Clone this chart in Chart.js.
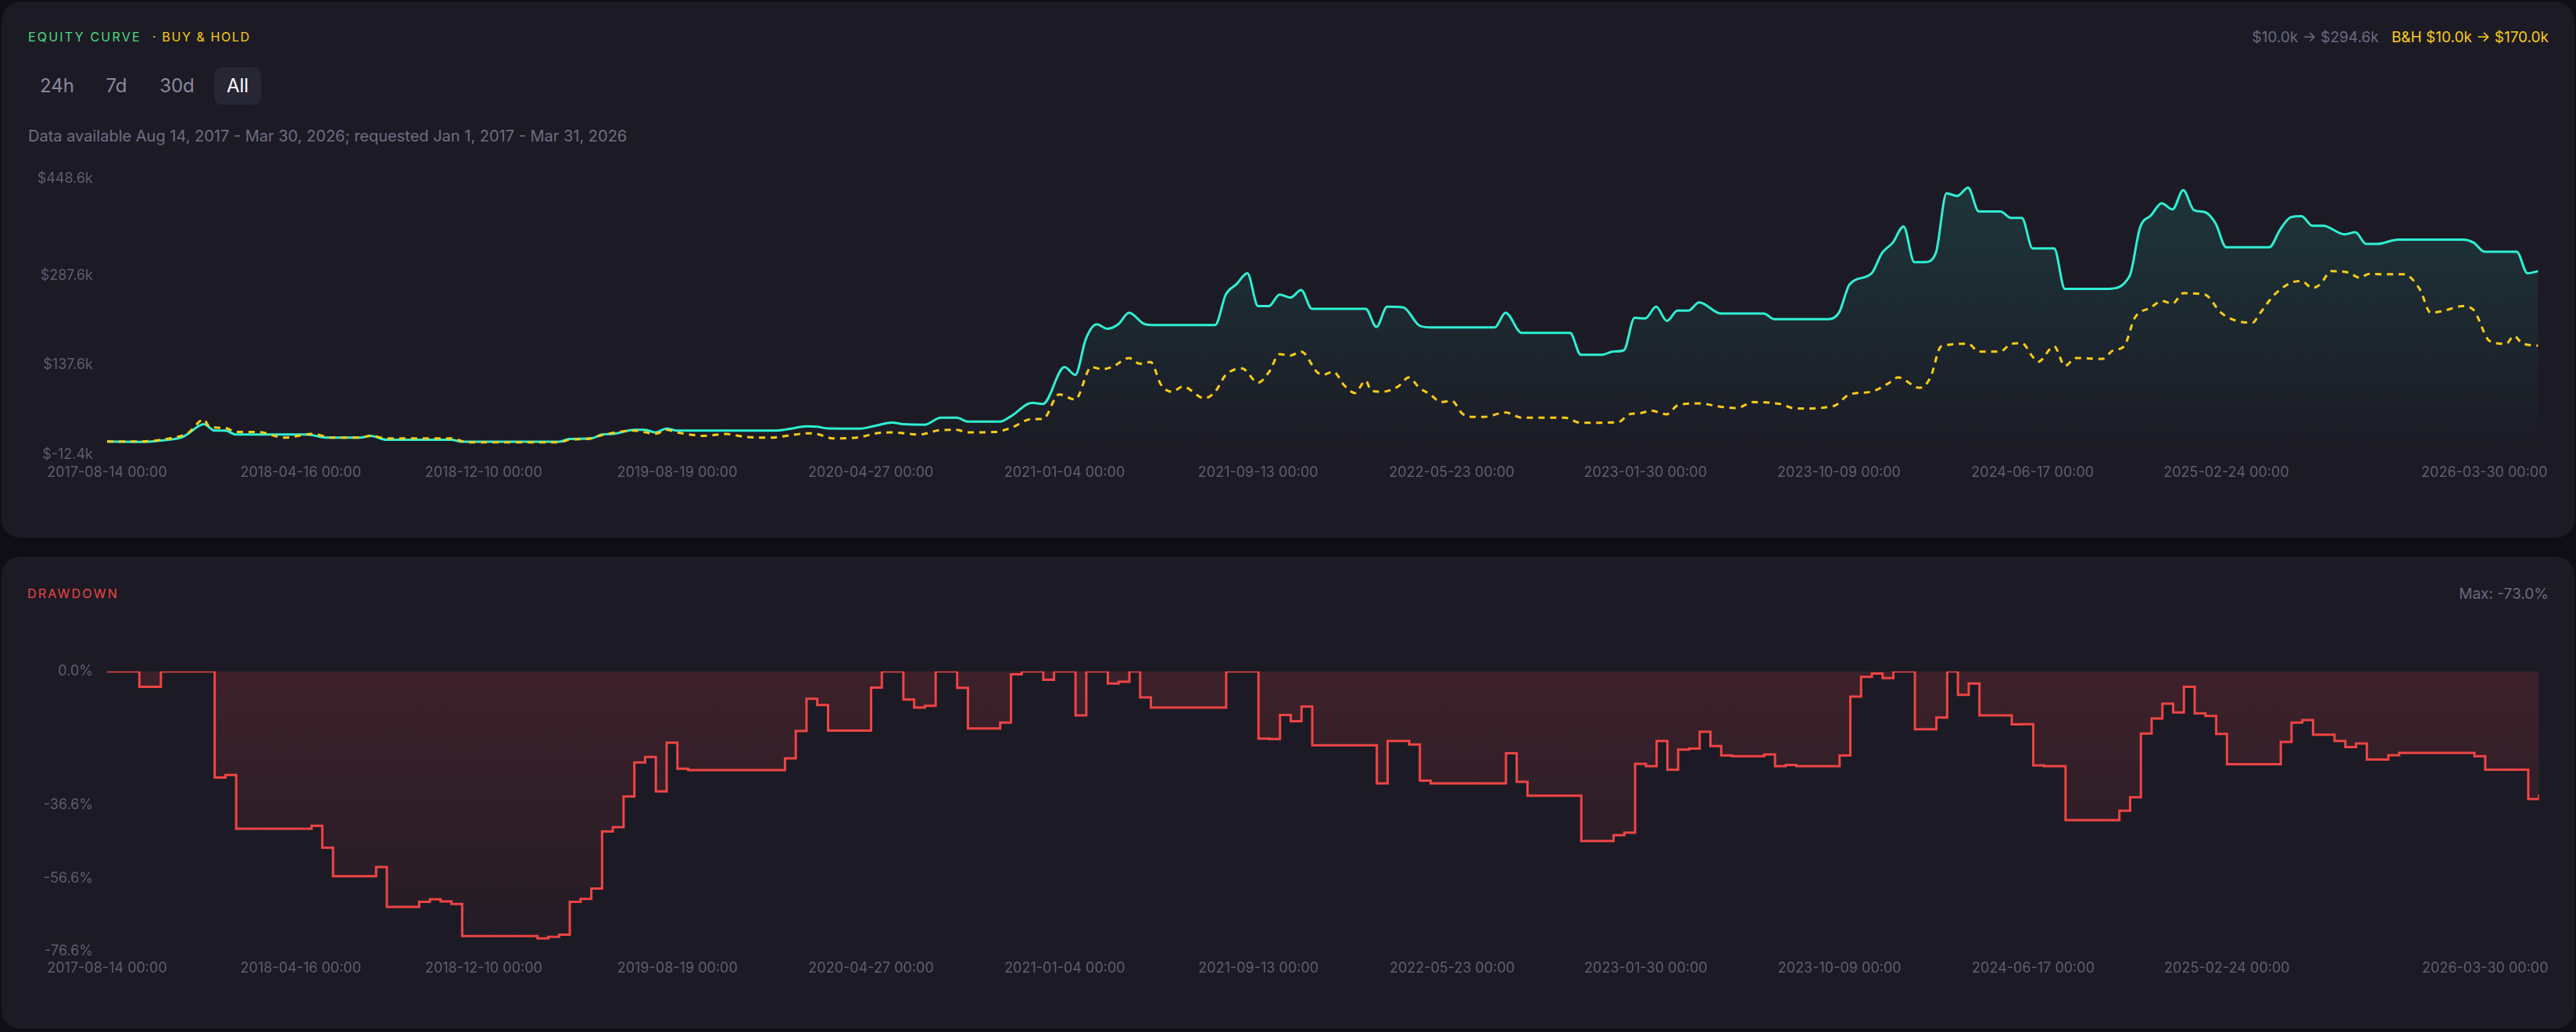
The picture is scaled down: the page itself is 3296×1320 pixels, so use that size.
<!DOCTYPE html>
<html>
<head>
<meta charset="utf-8">
<script src="https://cdn.jsdelivr.net/npm/chart.js@4.4.1/dist/chart.umd.min.js"></script>
<style>
  html, body { margin: 0; padding: 0; }
  body { width: 3296px; height: 1320px; background: #0f0e17; font-family: Inter, "Noto Sans", sans-serif; position: relative; overflow: hidden; }
  .panel { position: absolute; left: 2px; width: 3292px; background: #1c1b25; border-radius: 24px; }
  .abs { position: absolute; white-space: nowrap; }
  .title { font-size: 16px; line-height: 16px; letter-spacing: 2.2px; font-weight: 400; }
  .btn { position: absolute; top: 86px; height: 48px; line-height: 48px; font-size: 24px; text-align: center; color: #8a889e; border-radius: 10px; }
  .btn.on { background: #272634; color: #ffffff; }
  .box { position: absolute; }
</style>
</head>
<body>
<div class="panel" style="top:2px;height:686px;"></div>
<div class="panel" style="top:712px;height:604px;"></div>

<div class="abs title" style="left:36px;top:39px;color:#4ade80;">EQUITY CURVE</div>
<div class="abs title" style="left:195px;top:39px;color:#facc15;letter-spacing:1.6px;">· BUY &amp; HOLD</div>
<div class="abs" style="right:35px;top:37px;font-size:19px;line-height:22px;">
  <span style="color:#6b6980;">$10.0k → $294.6k</span>
  <span style="color:#facc15;margin-left:11px;">B&amp;H $10.0k → $170.0k</span>
</div>

<div class="btn" style="left:43px;width:60px;">24h</div>
<div class="btn" style="left:119px;width:60px;">7d</div>
<div class="btn" style="left:196px;width:61px;">30d</div>
<div class="btn on" style="left:274px;width:60px;">All</div>

<div class="abs" style="left:36px;top:163px;font-size:20px;line-height:22px;color:#6e6c82;">Data available Aug 14, 2017 - Mar 30, 2026; requested Jan 1, 2017 - Mar 31, 2026</div>

<div class="abs title" style="left:35px;top:751px;color:#ef4444;">DRAWDOWN</div>
<div class="abs" style="right:35px;top:749px;font-size:19px;line-height:22px;color:#6b6980;">Max: -73.0%</div>

<div class="box" style="left:20px;top:200px;width:3252px;height:420px;"><canvas id="equityChart"></canvas></div>
<div class="box" style="left:20px;top:830px;width:3252px;height:424px;"><canvas id="ddChart"></canvas></div>

<script>
// x axis: point index (0 = 2017-08-14, 452 = last bar)
var xTickIdx = [0, 36, 70, 106, 142, 178, 214, 250, 286, 322, 358, 394, 442];
var xTickLabels = ['2017-08-14 00:00', '2018-04-16 00:00', '2018-12-10 00:00', '2019-08-19 00:00',
    '2020-04-27 00:00', '2021-01-04 00:00', '2021-09-13 00:00', '2022-05-23 00:00',
    '2023-01-30 00:00', '2023-10-09 00:00', '2024-06-17 00:00', '2025-02-24 00:00', '2026-03-30 00:00'];

// equity (thousands of $)
var equityX = [0, 7, 10, 14, 15, 18, 20, 22, 24, 37, 41, 47, 49, 52, 64, 66, 84, 86, 90, 92, 94, 98, 100, 102, 104, 106,
    124, 127, 130, 132, 134, 140, 143, 146, 148, 152, 155, 158, 160, 166, 168, 172, 174, 178, 180, 182, 184, 186, 188,
    190, 193, 195, 206, 208, 210, 212, 214, 216, 218, 220, 222, 224, 234, 236, 238, 241, 244, 246, 258, 260, 263, 272,
    274, 278, 280, 282, 284, 286, 288, 290, 292, 294, 296, 300, 308, 310, 320, 322, 324, 328, 330, 332, 334, 336, 338,
    340, 342, 344, 346, 348, 352, 354, 356, 358, 362, 364, 372, 376, 378, 380, 382, 384, 386, 388, 390, 392, 394, 402,
    404, 406, 408, 410, 412, 416, 418, 420, 422, 426, 438, 440, 442, 448, 450, 452];
var equityY = [10.0, 9.6, 11.8, 17.5, 22.7, 39.1, 28.3, 28.3, 21.8, 21.8, 16.6, 16.6, 19.6, 13.1, 13.1, 9.7, 9.7, 14.4,
    15.3, 21.8, 22.7, 29.6, 29.6, 25.3, 31.8, 28.3, 28.3, 31.3, 35.6, 34.8, 32.0, 31.7, 36.9, 41.7, 39.1, 38.3, 49.9,
    49.9, 43.4, 43.4, 52.1, 74.6, 72.9, 134.3, 121.4, 182.0, 205.8, 198.4, 205.8, 225.3, 205.8, 204.5, 204.5, 255.6,
    272.9, 291.1, 236.1, 236.1, 255.6, 250.4, 262.9, 231.8, 231.8, 201.4, 235.2, 233.9, 203.6, 200.6, 200.6, 225.3,
    191.5, 191.5, 155.1, 155.1, 160.3, 162.5, 216.6, 215.7, 235.2, 211.4, 228.7, 228.7, 242.6, 224.0, 224.0, 214.4,
    214.4, 225.3, 272.9, 290.2, 324.8, 342.1, 369.0, 309.7, 309.7, 324.8, 424.4, 420.1, 433.9, 394.1, 394.1, 383.3,
    383.3, 332.6, 332.6, 265.1, 265.1, 285.9, 368.1, 387.6, 407.9, 397.6, 429.6, 396.3, 393.2, 374.6, 334.4, 334.4,
    363.8, 384.6, 386.3, 370.3, 370.3, 356.0, 359.5, 340.0, 340.0, 347.3, 347.3, 342.1, 327.0, 327.0, 291.1, 294.6];

// buy & hold (thousands of $)
var bhX = [0, 7, 12, 15, 18, 19, 22, 24, 28, 33, 38, 42, 47, 49, 52, 64, 67, 84, 86, 90, 92, 98, 102, 104, 106, 111, 115,
    119, 123, 128, 130, 132, 135, 140, 143, 146, 151, 155, 158, 160, 165, 168, 172, 174, 177, 180, 183, 185, 187, 190,
    192, 194, 196, 198, 200, 204, 206, 208, 211, 214, 216, 218, 220, 222, 225, 226, 228, 230, 232, 234, 235, 237, 240,
    242, 244, 246, 248, 250, 252, 254, 256, 260, 263, 271, 274, 281, 283, 285, 287, 290, 292, 296, 300, 303, 306, 311,
    314, 321, 324, 328, 331, 333, 337, 339, 341, 346, 348, 352, 354, 356, 358, 359, 362, 364, 366, 371, 373, 375, 377,
    380, 382, 384, 386, 390, 393, 396, 399, 400, 403, 406, 408, 410, 411.5, 413.5, 416.7, 418.8, 420.6, 423, 427, 430,
    432, 434, 438, 440, 443, 446, 447.5, 449, 452];
var bhY = [10.0, 10.5, 16.1, 23.9, 46.9, 34.8, 32.6, 26.1, 26.1, 16.6, 22.7, 16.6, 16.6, 19.6, 15.3, 15.3, 8.8, 8.8, 13.1,
    15.3, 20.9, 28.3, 23.1, 29.6, 25.3, 19.6, 22.7, 17.5, 16.6, 21.8, 23.9, 22.7, 15.3, 17.5, 23.9, 25.3, 21.8, 29.2,
    29.6, 25.3, 26.1, 32.6, 47.8, 47.8, 88.9, 80.2, 134.3, 130.9, 135.2, 149.5, 140.0, 143.0, 104.1, 93.2, 101.9, 82.4,
    93.2, 121.4, 132.2, 108.4, 125.7, 156.0, 153.8, 160.3, 125.7, 121.4, 126.6, 104.1, 91.1, 111.8, 95.4, 93.2, 101.9,
    117.0, 99.7, 88.9, 75.9, 78.1, 56.4, 51.2, 51.2, 58.6, 49.9, 49.9, 41.3, 42.6, 55.6, 57.3, 61.6, 55.6, 70.5, 73.7,
    68.1, 65.9, 75.9, 72.9, 65.1, 69.4, 88.9, 93.2, 106.2, 117.0, 99.7, 117.0, 169.0, 173.3, 160.3, 160.3, 173.3, 174.2,
    151.7, 143.0, 169.0, 136.5, 149.5, 148.2, 162.5, 169.0, 216.6, 233.9, 244.7, 240.4, 257.7, 255.6, 225.3, 211.4,
    208.8, 220.9, 255.6, 275.0, 278.1, 266.4, 272.9, 294.5, 292.4, 283.7, 290.2, 289.3, 289.3, 264.2, 225.3, 227.4,
    236.1, 229.6, 177.6, 173.3, 186.3, 174.2, 170.0];
var equityTicks = [-12.4, 137.6, 287.6, 448.6];

// drawdown (%), each value holds until the next index
var ddX = [0, 6, 10, 20, 22, 24, 38, 40, 42, 50, 52, 58, 60, 62, 64, 66, 80, 82, 84, 86, 88, 90, 92, 94, 96, 98, 100,
    102, 104, 106, 108, 126, 128, 130, 132, 134, 142, 144, 148, 150, 152, 154, 158, 160, 166, 168, 170, 174, 176, 180,
    182, 186, 188, 190, 192, 194, 208, 214, 216, 218, 220, 222, 224, 236, 238, 242, 244, 246, 260, 262, 264, 274, 280,
    282, 284, 286, 288, 290, 292, 294, 296, 298, 300, 302, 308, 310, 312, 314, 322, 324, 326, 328, 330, 332, 336, 340,
    342, 344, 346, 348, 354, 356, 358, 360, 364, 374, 376, 378, 380, 382, 384, 386, 388, 390, 392, 394, 404, 406, 408,
    410, 414, 416, 418, 420, 424, 426, 440, 442, 450, 452];
var ddY = [0, -4.2, 0, -29.0, -28.3, -43.0, -42.2, -48.2, -56.0, -53.5, -64.4, -63.0, -62.3, -62.9, -63.6, -72.4, -73.0,
    -72.6, -72.0, -63.0, -62.2, -59.4, -43.8, -42.6, -34.2, -24.9, -23.4, -32.8, -19.5, -26.6, -27.0, -23.8, -16.3,
    -7.5, -9.2, -16.2, -4.4, 0, -7.7, -9.9, -9.4, 0, -4.5, -15.6, -14.0, -0.8, 0, -2.3, 0, -12.0, 0, -3.3, -2.8, 0,
    -7.1, -9.9, 0, -18.4, -18.5, -11.9, -13.6, -9.6, -20.2, -30.6, -19.0, -20.0, -29.9, -30.6, -22.4, -30.2, -34.0,
    -46.4, -44.8, -44.1, -25.3, -25.9, -19.0, -26.9, -21.4, -21.1, -16.5, -20.4, -23.0, -23.2, -22.7, -25.9, -25.6,
    -25.9, -23.0, -6.9, -1.5, -0.6, -1.8, 0, -15.8, -12.6, 0, -6.4, -3.3, -12.0, -14.5, -14.4, -25.7, -25.9, -40.7,
    -38.1, -34.4, -17.0, -12.9, -8.8, -11.2, -4.2, -11.5, -12.2, -17.1, -25.4, -19.3, -14.0, -13.3, -17.3, -19.0,
    -20.7, -19.7, -24.1, -22.9, -22.3, -23.2, -26.9, -34.9, -33.6];
var ddTicks = [-76.6, -56.6, -36.6, 0];

function toPoints(xs, ys) {
    return xs.map(function (x, i) { return { x: x, y: ys[i] }; });
}

function vGradient(chart, top, bottom) {
    var area = chart.chartArea;
    if (!area) return top;
    var g = chart.ctx.createLinearGradient(0, area.top, 0, area.bottom);
    g.addColorStop(0, top);
    g.addColorStop(1, bottom);
    return g;
}

var tickFont = { family: 'Inter', size: 18 };
var tickColor = '#5f5d73';

function xAxis(pad) {
    return {
        type: 'linear', min: 0, max: 452,
        grid: { display: false, drawTicks: false },
        border: { display: false },
        afterBuildTicks: function (scale) {
            scale.ticks = xTickIdx.map(function (v) { return { value: v }; });
        },
        afterFit: function (scale) { scale.height = pad + 26; },
        ticks: {
            autoSkip: false, maxRotation: 0, padding: pad,
            color: tickColor, font: tickFont,
            callback: function (v, i) { return xTickLabels[i]; }
        }
    };
}

function yAxis(min, max, ticks, fmt) {
    return {
        type: 'linear', min: min, max: max,
        grid: { display: false, drawTicks: false },
        border: { display: false },
        afterBuildTicks: function (scale) {
            scale.ticks = ticks.map(function (v) { return { value: v }; });
        },
        afterFit: function (scale) { scale.width = 117; },
        ticks: { padding: 18, color: tickColor, font: tickFont, callback: fmt }
    };
}

Chart.defaults.font.family = 'Inter';

new Chart(document.getElementById('equityChart'), {
    type: 'line',
    data: {
        datasets: [{
            label: 'Buy & Hold',
            data: toPoints(bhX, bhY),
            borderColor: '#facc15',
            borderWidth: 3,
            borderDash: [8, 7],
            pointRadius: 0,
            fill: false,
            cubicInterpolationMode: 'monotone',
            order: 1
        }, {
            label: 'Equity',
            data: toPoints(equityX, equityY),
            borderColor: '#2ff0d2',
            borderWidth: 3,
            pointRadius: 0,
            fill: 'origin',
            backgroundColor: function (ctx) {
                return vGradient(ctx.chart, 'rgba(47,240,210,0.13)', 'rgba(47,240,210,0.0)');
            },
            cubicInterpolationMode: 'monotone',
            order: 2
        }]
    },
    options: {
        responsive: true,
        maintainAspectRatio: false,
        animation: false,
        layout: { padding: { top: 28, right: 20, left: 0, bottom: 0 } },
        plugins: { legend: { display: false }, tooltip: { enabled: false } },
        scales: {
            x: xAxis(12),
            y: yAxis(-12.4, 448.6, equityTicks, function (v) { return '$' + v.toFixed(1) + 'k'; })
        }
    }
});

new Chart(document.getElementById('ddChart'), {
    type: 'line',
    data: {
        datasets: [{
            label: 'Drawdown',
            data: toPoints(ddX, ddY),
            stepped: true,
            borderColor: '#ef4444',
            borderWidth: 3,
            pointRadius: 0,
            fill: { value: 0 },
            backgroundColor: function (ctx) {
                return vGradient(ctx.chart, 'rgba(239,68,68,0.16)', 'rgba(239,68,68,0.03)');
            }
        }]
    },
    options: {
        responsive: true,
        maintainAspectRatio: false,
        animation: false,
        layout: { padding: { top: 23, right: 20, left: 0, bottom: 0 } },
        plugins: { legend: { display: false }, tooltip: { enabled: false } },
        scales: {
            x: xAxis(11),
            y: yAxis(-76.6, 0, ddTicks, function (v) { return v.toFixed(1) + '%'; })
        }
    }
});
</script>
</body>
</html>
